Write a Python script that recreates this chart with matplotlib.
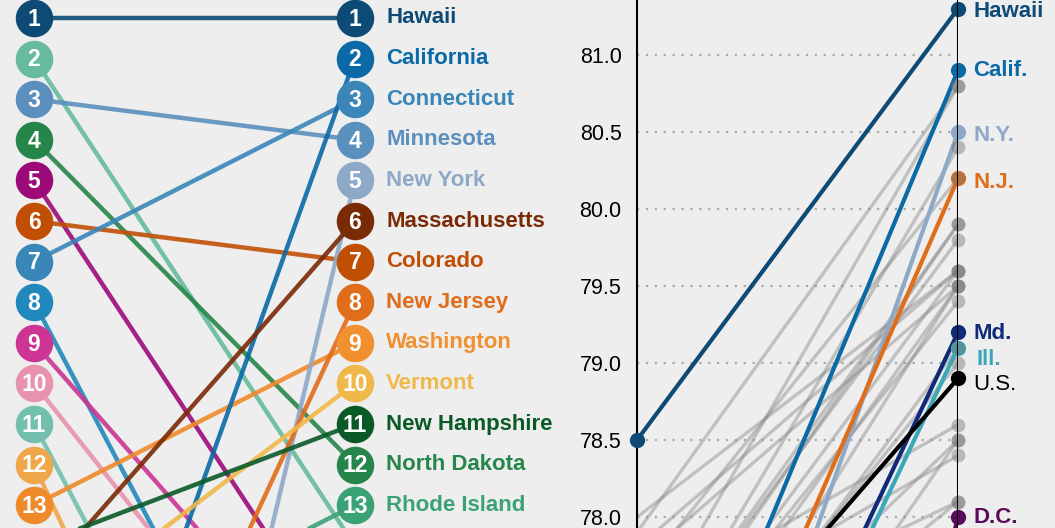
import matplotlib.pyplot as plt

plt.rcParams['font.family'] = ['Liberation Sans', 'DejaVu Sans']

# --- Rank chart (left) ---
right_states = ["Hawaii", "California", "Connecticut", "Minnesota", "New York",
                "Massachusetts", "Colorado", "New Jersey", "Washington", "Vermont",
                "New Hampshire", "North Dakota", "Rhode Island"]
right_colors = ["#0d4a75", "#0a69a6", "#3a86b8", "#5b8fbd", "#8ea8c8",
                "#7a2a05", "#c04f05", "#e06d1a", "#f0902e", "#f0b84a",
                "#0a5a28", "#26854a", "#3aa275"]
left_colors = ["#0d4a75", "#66bb9d", "#5b8fbd", "#26854a", "#9c0a7a",
               "#c04f05", "#3a86b8", "#2188bd", "#cc3593", "#e892ad",
               "#72bfae", "#f0a64a", "#ee8a2a"]

# rank in first year -> rank in second year
rank_from = [1, 2, 3, 4, 5, 6, 7, 8, 9, 10, 11, 12, 13, 24, 38, 15, 25, 16, 14, 17]
rank_to = [1, 14, 4, 12, 17, 7, 3, 23, 18, 20, 26, 29, 9, 2, 5, 6, 8, 10, 11, 13]
rank_colors = ["#0d4a75", "#66bb9d", "#5b8fbd", "#26854a", "#9c0a7a",
               "#c04f05", "#3a86b8", "#2188bd", "#cc3593", "#e892ad",
               "#72bfae", "#f0a64a", "#ee8a2a", "#0a69a6", "#8ea8c8",
               "#7a2a05", "#e06d1a", "#f0b84a", "#0a5a28", "#3aa275"]

# --- Life expectancy slope chart (right) ---
grey_start = [77.9, 77.2, 76.9, 77.6, 77.0, 76.9, 77.0, 77.8, 76.8, 78.0, 76.6,
              76.2, 77.7, 76.8, 76.3, 76.4, 77.4, 76.5, 75.5, 77.2, 76.4, 77.1]
grey_end = [80.8, 80.8, 80.4, 80.2, 79.9, 79.9, 79.8, 79.6, 79.6, 79.6, 79.5,
            79.5, 79.5, 79.4, 79.1, 79.0, 78.6, 78.5, 78.5, 78.4, 78.1, 78.1]

hl_names = ["Hawaii", "Calif.", "N.Y.", "N.J.", "Md.", "Ill.", "U.S.", "D.C."]
hl_start = [78.5, 75.9, 74.65, 75.4, 74.8, 74.7, 76.5, 69.5]
hl_end = [81.3, 80.9, 80.5, 80.2, 79.2, 79.1, 78.9, 78.0]
hl_colors = ["#0d4a75", "#0a69a6", "#8ea8c8", "#e06d1a", "#102a7a", "#3aa8b8", "#000000", "#5a0a5a"]
# label nudges to avoid overlap
hl_label_y = [81.28, 80.9, 80.48, 80.17, 79.19, 79.02, 78.86, 78.0]
hl_label_x = [1.047, 1.047, 1.047, 1.047, 1.047, 1.059, 1.047, 1.047]

yticks = [78.0, 78.5, 79.0, 79.5, 80.0, 80.5, 81.0]

bg = "#eeeeee"
fig = plt.figure(figsize=(10.55, 5.28), dpi=100, facecolor=bg)

# left panel
ax1 = fig.add_axes([0, 0, 560 / 1055, 1])
ax1.set_facecolor(bg)
for a, b, c in zip(rank_from, rank_to, rank_colors):
    ax1.plot([0, 1], [a, b], color=c, lw=3.2, alpha=0.9, solid_capstyle='butt', zorder=2)

ranks = list(range(1, 14))
for r, c in zip(ranks, left_colors):
    ax1.plot(0, r, 'o', ms=27, color=c, mec='none', zorder=3)
    ax1.text(0, r + 0.03, str(r), color='white', fontsize=16.5, fontweight='bold',
             ha='center', va='center', zorder=4)
for r, c, name in zip(ranks, right_colors, right_states):
    ax1.plot(1, r, 'o', ms=27, color=c, mec='none', zorder=3)
    ax1.text(1, r + 0.03, str(r), color='white', fontsize=16.5, fontweight='bold',
             ha='center', va='center', zorder=4)
    ax1.text(1.097, r, name, color=c, fontsize=16, fontweight='bold',
             ha='left', va='center', zorder=4)

ax1.set_xlim(-0.106, 1.639)
ax1.set_ylim(13.56, 0.557)
ax1.axis('off')

# right panel
ax2 = fig.add_axes([637 / 1055, 0, 321 / 1055, 1])
ax2.set_facecolor(bg)
ax2.set_xlim(0, 1)
ax2.set_ylim(77.929, 81.357)
for y in yticks:
    ax2.plot([0, 1], [y, y], color='#aaaaaa', lw=1.6, ls=(0, (1, 3)), zorder=1)

for s, e in zip(grey_start, grey_end):
    ax2.plot([0, 1], [s, e], color='#888888', lw=2.4, alpha=0.45, zorder=2)

for s, e, c in zip(hl_start, hl_end, hl_colors):
    ax2.plot([0, 1], [s, e], color=c, lw=3, zorder=3)
    ax2.plot(1, e, 'o', ms=11, color=c, mec='none', zorder=4, clip_on=False)
    ax2.plot(0, s, 'o', ms=11, color=c, mec='none', zorder=4, clip_on=False)

for e in grey_end:
    ax2.plot(1, e, 'o', ms=10, color='#777777', alpha=0.45, mec='none', zorder=5, clip_on=False)

ax2.axvline(1, color='black', lw=1.5, zorder=6)

for name, c, x, y in zip(hl_names, hl_colors, hl_label_x, hl_label_y):
    ax2.text(x, y, name, color=c, fontsize=16,
             fontweight='normal' if name == "U.S." else 'bold',
             ha='left', va='center', transform=ax2.transData, clip_on=False)

ax2.set_yticks(yticks)
ax2.set_yticklabels([f"{y:.1f}" for y in yticks], fontsize=15.5)
ax2.tick_params(axis='y', length=0, pad=11)
ax2.set_xticks([])
for side in ['top', 'right', 'bottom']:
    ax2.spines[side].set_visible(False)
ax2.spines['left'].set_color('black')
ax2.spines['left'].set_linewidth(1.5)

fig.savefig("out.png", dpi=100, facecolor=bg)
